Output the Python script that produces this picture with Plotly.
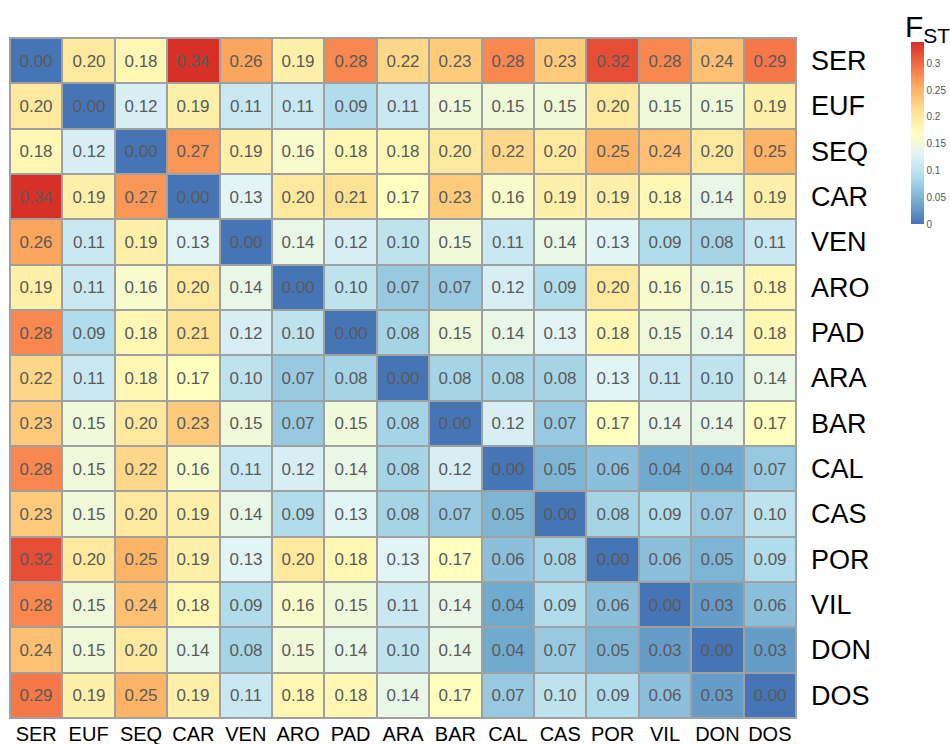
import plotly.graph_objects as go

pops = ["SER", "EUF", "SEQ", "CAR", "VEN", "ARO", "PAD", "ARA", "BAR",
        "CAL", "CAS", "POR", "VIL", "DON", "DOS"]

fst = [
    [0.00, 0.20, 0.18, 0.34, 0.26, 0.19, 0.28, 0.22, 0.23, 0.28, 0.23, 0.32, 0.28, 0.24, 0.29],
    [0.20, 0.00, 0.12, 0.19, 0.11, 0.11, 0.09, 0.11, 0.15, 0.15, 0.15, 0.20, 0.15, 0.15, 0.19],
    [0.18, 0.12, 0.00, 0.27, 0.19, 0.16, 0.18, 0.18, 0.20, 0.22, 0.20, 0.25, 0.24, 0.20, 0.25],
    [0.34, 0.19, 0.27, 0.00, 0.13, 0.20, 0.21, 0.17, 0.23, 0.16, 0.19, 0.19, 0.18, 0.14, 0.19],
    [0.26, 0.11, 0.19, 0.13, 0.00, 0.14, 0.12, 0.10, 0.15, 0.11, 0.14, 0.13, 0.09, 0.08, 0.11],
    [0.19, 0.11, 0.16, 0.20, 0.14, 0.00, 0.10, 0.07, 0.07, 0.12, 0.09, 0.20, 0.16, 0.15, 0.18],
    [0.28, 0.09, 0.18, 0.21, 0.12, 0.10, 0.00, 0.08, 0.15, 0.14, 0.13, 0.18, 0.15, 0.14, 0.18],
    [0.22, 0.11, 0.18, 0.17, 0.10, 0.07, 0.08, 0.00, 0.08, 0.08, 0.08, 0.13, 0.11, 0.10, 0.14],
    [0.23, 0.15, 0.20, 0.23, 0.15, 0.07, 0.15, 0.08, 0.00, 0.12, 0.07, 0.17, 0.14, 0.14, 0.17],
    [0.28, 0.15, 0.22, 0.16, 0.11, 0.12, 0.14, 0.08, 0.12, 0.00, 0.05, 0.06, 0.04, 0.04, 0.07],
    [0.23, 0.15, 0.20, 0.19, 0.14, 0.09, 0.13, 0.08, 0.07, 0.05, 0.00, 0.08, 0.09, 0.07, 0.10],
    [0.32, 0.20, 0.25, 0.19, 0.13, 0.20, 0.18, 0.13, 0.17, 0.06, 0.08, 0.00, 0.06, 0.05, 0.09],
    [0.28, 0.15, 0.24, 0.18, 0.09, 0.16, 0.15, 0.11, 0.14, 0.04, 0.09, 0.06, 0.00, 0.03, 0.06],
    [0.24, 0.15, 0.20, 0.14, 0.08, 0.15, 0.14, 0.10, 0.14, 0.04, 0.07, 0.05, 0.03, 0.00, 0.03],
    [0.29, 0.19, 0.25, 0.19, 0.11, 0.18, 0.18, 0.14, 0.17, 0.07, 0.10, 0.09, 0.06, 0.03, 0.00],
]

cbar_ticks = [0, 0.05, 0.1, 0.15, 0.2, 0.25, 0.3]
cbar_labels = ["0", "0.05", "0.1", "0.15", "0.2", "0.25", "0.3"]

# reversed RdYlBu (ColorBrewer, 9 classes without the darkest ends)
rdylbu = ["#4575b4", "#74add1", "#abd9e9", "#e0f3f8", "#ffffbf",
          "#fee090", "#fdae61", "#f46d43", "#d73027"]
scale = [[i / (len(rdylbu) - 1), c] for i, c in enumerate(rdylbu)]

W, H = 950, 744
FONT = "Liberation Sans"

fig = go.Figure(go.Heatmap(
    z=fst, x=pops, y=pops,
    zmin=0, zmax=0.34,
    colorscale=scale,
    xgap=2, ygap=2,
    texttemplate="%{z:.2f}",
    textfont=dict(family=FONT, size=17, color="#5a5a5a"),
    hoverinfo="skip",
    colorbar=dict(
        xref="container", yref="container",
        x=901 / W, xanchor="left",
        y=1 - 46 / H, yanchor="top",
        lenmode="pixels", len=182, ypad=0,
        thickness=13, outlinewidth=0,
        tickvals=cbar_ticks, ticktext=cbar_labels,
        ticks="", ticklabelposition="outside",
        tickfont=dict(family=FONT, size=10, color="#555555"),
    ),
))

fig.update_layout(
    width=W, height=H,
    margin=dict(l=10, r=W - 796, t=38, b=H - 718),
    paper_bgcolor="white",
    plot_bgcolor="#a0a0a0",
    font=dict(family=FONT),
    shapes=[dict(type="rect", xref="paper", yref="paper", x0=0, x1=1, y0=0, y1=1,
                 line=dict(color="#a0a0a0", width=2))],
    annotations=[dict(text="F<sub>ST</sub>", xref="paper", yref="paper",
                      x=(903 - 10) / (796 - 10), y=1 + (38 - 28) / (718 - 38),
                      xanchor="left", yanchor="middle", showarrow=False,
                      font=dict(family=FONT, size=30, color="black"))],
)
fig.update_xaxes(showgrid=False, zeroline=False, ticks="", automargin=False,
                 tickfont=dict(size=20, color="black"), ticklabelstandoff=2)
fig.update_yaxes(autorange="reversed", side="right", showgrid=False, zeroline=False,
                 ticks="", automargin=False,
                 tickfont=dict(size=27, color="black"), ticklabelstandoff=14)

fig.write_html("out.html")
